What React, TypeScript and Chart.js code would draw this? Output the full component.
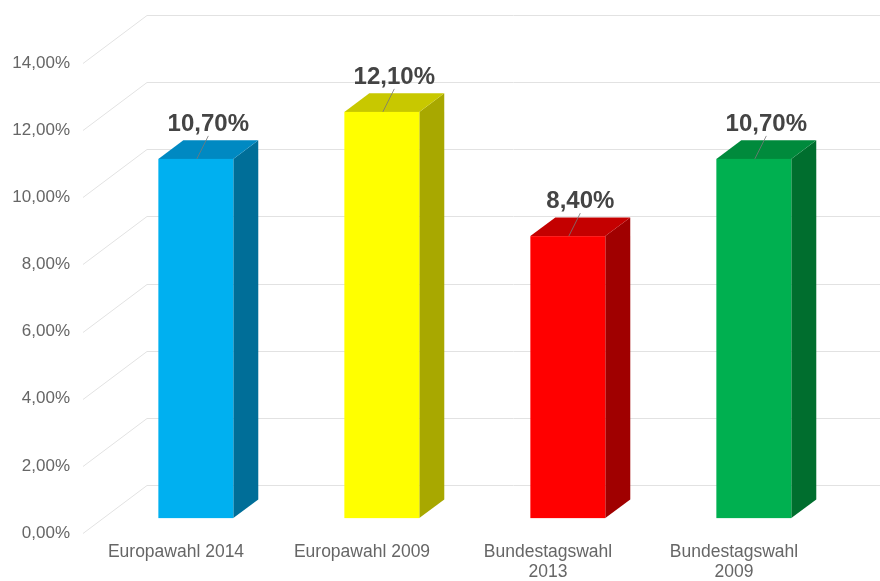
import { useEffect, useRef } from 'react';
import { Chart, registerables } from 'chart.js';

Chart.register(...registerables);

const categories: string[][] = [
  ['Europawahl 2014'],
  ['Europawahl 2009'],
  ['Bundestagswahl', '2013'],
  ['Bundestagswahl', '2009'],
];
const values: number[] = [10.7, 12.1, 8.4, 10.7];
const valueLabels: string[] = ['10,70%', '12,10%', '8,40%', '10,70%'];
const frontColors: string[] = ['#00B0F0', '#FFFF00', '#FF0000', '#00B050'];
const topColors: string[] = ['#0089C2', '#C8C800', '#C40000', '#008A3C'];
const sideColors: string[] = ['#006E98', '#A8A800', '#A00000', '#006E2E'];
const yMin = 0;
const yMax = 14;
const yStep = 2;

const DEPTH_X = 64;
const DEPTH_Y = -48;
const F1 = 0.31;
const F2 = 0.70;

const fmt = (v: number) => v.toFixed(2).replace('.', ',') + '%';

const threeD = {
  id: 'threeD',
  beforeDatasetsDraw(chart: any) {
    const { ctx, chartArea, scales } = chart;
    const ys = scales.y;
    ctx.save();
    ctx.strokeStyle = '#E2E2E2';
    ctx.lineWidth = 1;
    for (let v = yMin; v <= yMax + 1e-9; v += yStep) {
      const y = Math.round(ys.getPixelForValue(v)) + 0.5;
      const x0 = chartArea.left;
      ctx.beginPath();
      ctx.moveTo(x0, y);
      ctx.lineTo(x0 + DEPTH_X, y + DEPTH_Y);
      ctx.lineTo(chart.width, y + DEPTH_Y);
      ctx.stroke();
    }
    ctx.restore();
  },
  afterDatasetsDraw(chart: any) {
    const { ctx, scales } = chart;
    const ys = scales.y;
    const meta = chart.getDatasetMeta(0);
    const bx = DEPTH_X * (F2 - F1);
    const by = DEPTH_Y * (F2 - F1);
    ctx.save();
    meta.data.forEach((el: any, i: number) => {
      const w = el.width;
      const cx = el.x + DEPTH_X * F1;
      const left = cx - w / 2;
      const right = cx + w / 2;
      const bottom = ys.getPixelForValue(0) + DEPTH_Y * F1;
      const top = ys.getPixelForValue(values[i]) + DEPTH_Y * F1;
      // side
      ctx.fillStyle = sideColors[i];
      ctx.beginPath();
      ctx.moveTo(right, bottom);
      ctx.lineTo(right + bx, bottom + by);
      ctx.lineTo(right + bx, top + by);
      ctx.lineTo(right, top);
      ctx.closePath();
      ctx.fill();
      // top
      ctx.fillStyle = topColors[i];
      ctx.beginPath();
      ctx.moveTo(left, top);
      ctx.lineTo(left + bx, top + by);
      ctx.lineTo(right + bx, top + by);
      ctx.lineTo(right, top);
      ctx.closePath();
      ctx.fill();
      // front
      ctx.fillStyle = frontColors[i];
      ctx.fillRect(left, top, w, bottom - top);
      // leader line
      ctx.strokeStyle = 'rgba(120,120,120,0.8)';
      ctx.lineWidth = 1;
      ctx.beginPath();
      ctx.moveTo(cx + 1, top);
      ctx.lineTo(cx + bx / 2, top - 23);
      ctx.stroke();
      // value label
      ctx.fillStyle = '#444444';
      ctx.font = 'bold 24px "Liberation Sans", Arial, sans-serif';
      ctx.textAlign = 'center';
      ctx.textBaseline = 'alphabetic';
      ctx.fillText(valueLabels[i], cx + bx / 2, top - 28);
    });
    ctx.restore();
  },
};

export default function App() {
  const ref = useRef<HTMLCanvasElement | null>(null);
  useEffect(() => {
    if (!ref.current) return;
    const chart = new Chart(ref.current, {
      type: 'bar',
      data: {
        labels: categories,
        datasets: [
          {
            data: values,
            backgroundColor: 'rgba(0,0,0,0)',
            borderWidth: 0,
            barPercentage: 0.5,
            categoryPercentage: 0.806,
          },
        ],
      },
      options: {
        animation: false,
        responsive: true,
        maintainAspectRatio: false,
        layout: { padding: { left: 0, right: 53, top: 63, bottom: 0 } },
        plugins: {
          legend: { display: false },
          tooltip: { enabled: false },
        },
        scales: {
          x: {
            grid: { display: false, drawTicks: false },
            border: { display: false },
            ticks: {
              color: '#666666',
              font: { family: '"Liberation Sans", Arial, sans-serif', size: 17.5, lineHeight: 1.1 },
              padding: 10,
              maxRotation: 0,
              autoSkip: false,
            },
            afterFit: (s: any) => {
              s.height = 48;
            },
          },
          y: {
            min: yMin,
            max: yMax,
            grid: { display: false, drawTicks: false },
            border: { display: false },
            ticks: {
              stepSize: yStep,
              color: '#666666',
              font: { family: '"Liberation Sans", Arial, sans-serif', size: 17 },
              padding: 13,
              callback: (v: any) => fmt(Number(v)),
            },
            afterFit: (s: any) => {
              s.width = 83;
            },
          },
        },
      },
      plugins: [threeD],
    });
    return () => chart.destroy();
  }, []);
  return (
    <div style={{ position: 'absolute', left: 0, top: 0, width: 880, height: 581, background: '#fff' }}>
      <canvas ref={ref} />
    </div>
  );
}
